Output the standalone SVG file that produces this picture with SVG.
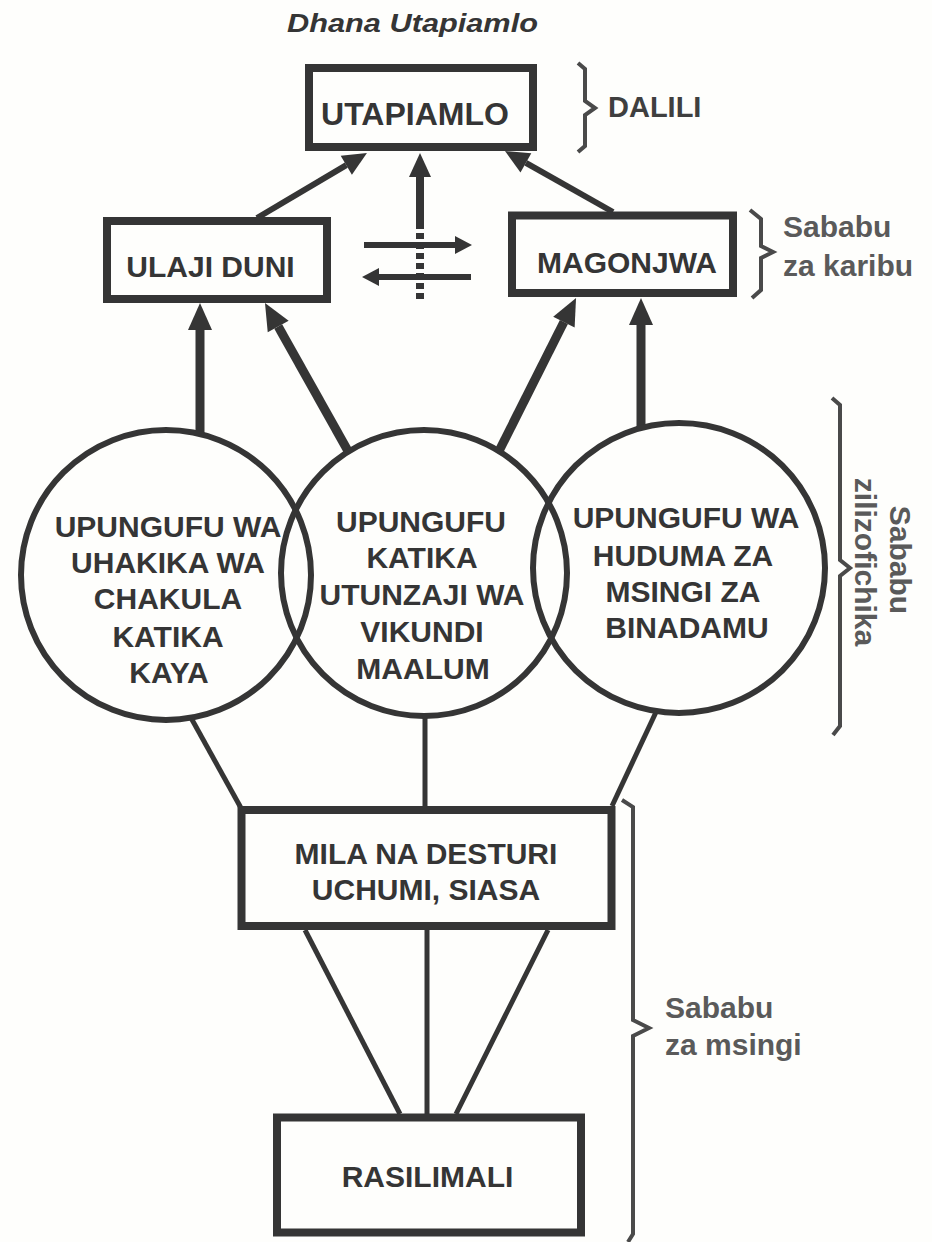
<svg xmlns="http://www.w3.org/2000/svg" width="932" height="1242" viewBox="0 0 932 1242">
<defs>
<style>
.box{fill:none;stroke:#353535;stroke-width:8}
.circ{fill:none;stroke:#353535;stroke-width:6}
.lbl{font-family:"Liberation Sans",Arial,sans-serif;font-weight:bold;fill:#353535;text-anchor:middle}
.side{font-family:"Liberation Sans",Arial,sans-serif;font-weight:bold;fill:#5a5a5a;font-size:30px}
.brace{fill:none;stroke:#4a4a4a;stroke-width:4;stroke-linejoin:miter}
.arr{fill:none;stroke:#353535}
.ln{fill:none;stroke:#353535;stroke-width:5}
</style>
<marker id="hl" markerUnits="userSpaceOnUse" markerWidth="40" markerHeight="40" refX="0" refY="0" orient="auto" overflow="visible"><path d="M0,-12 L27,0 L0,12 Z" fill="#353535"/></marker>
<marker id="hm" markerUnits="userSpaceOnUse" markerWidth="40" markerHeight="40" refX="0" refY="0" orient="auto" overflow="visible"><path d="M0,-11 L24,0 L0,11 Z" fill="#353535"/></marker>
<marker id="hs" markerUnits="userSpaceOnUse" markerWidth="40" markerHeight="40" refX="0" refY="0" orient="auto" overflow="visible"><path d="M0,-9 L17,0 L0,9 Z" fill="#353535"/></marker>
</defs>
<rect width="932" height="1242" fill="#fefefc"/>

<text x="287" y="32" font-family="Liberation Sans,Arial,sans-serif" font-weight="bold" font-style="italic" font-size="25" fill="#353535" textLength="251" lengthAdjust="spacingAndGlyphs">Dhana Utapiamlo</text>

<g id="connectors">
<path class="arr" stroke-width="6" d="M257,218 L346.3,165.2" marker-end="url(#hm)"/>
<path class="arr" stroke-width="6" d="M613,212 L525.9,162.8" marker-end="url(#hm)"/>
<path class="arr" stroke-width="8" d="M420,229 L420,177" marker-end="url(#hm)"/>
<path class="arr" stroke-width="8" stroke-dasharray="6 4" d="M420,233 L420,301"/>
<path class="arr" stroke-width="6" d="M364,245 L455,245" marker-end="url(#hs)"/>
<path class="arr" stroke-width="6" d="M471,277 L379,277" marker-end="url(#hs)"/>
<path class="arr" stroke-width="9" d="M200,436 L200,330" marker-end="url(#hl)"/>
<path class="arr" stroke-width="9" d="M348,451 L278.2,326.5" marker-end="url(#hl)"/>
<path class="arr" stroke-width="9" d="M499,451 L563.9,322.1" marker-end="url(#hl)"/>
<path class="arr" stroke-width="9" d="M641,430 L641,325" marker-end="url(#hl)"/>
<path class="ln" d="M190,716 L241,808"/>
<path class="ln" d="M425,716 L425,808"/>
<path class="ln" d="M657,710 L612,806"/>
<path class="ln" d="M305,930 L400,1114"/>
<path class="ln" d="M427,930 L427,1114"/>
<path class="ln" d="M548,930 L456,1114"/>
</g>

<g id="utapiamlo">
<rect class="box" x="309" y="68" width="224" height="79"/>
<text class="lbl" x="415" y="125" font-size="32">UTAPIAMLO</text>
</g>
<g id="ulaji-duni">
<rect class="box" x="107" y="221" width="220" height="78"/>
<text class="lbl" x="210.5" y="277" font-size="30">ULAJI DUNI</text>
</g>
<g id="magonjwa">
<rect class="box" x="512" y="215.5" width="221" height="77.5"/>
<text class="lbl" x="627" y="273" font-size="30">MAGONJWA</text>
</g>

<g id="uhakika-chakula">
<ellipse class="circ" cx="166" cy="575" rx="145" ry="145"/>
<text class="lbl" font-size="30"><tspan x="168" y="537">UPUNGUFU WA</tspan><tspan x="168" y="573">UHAKIKA WA</tspan><tspan x="168" y="609">CHAKULA</tspan><tspan x="168" y="647">KATIKA</tspan><tspan x="169" y="683">KAYA</tspan></text>
</g>
<g id="utunzaji-vikundi">
<ellipse class="circ" cx="424" cy="573" rx="143" ry="143"/>
<text class="lbl" font-size="30"><tspan x="421" y="532">UPUNGUFU</tspan><tspan x="422" y="568">KATIKA</tspan><tspan x="422" y="605">UTUNZAJI WA</tspan><tspan x="422" y="642">VIKUNDI</tspan><tspan x="423" y="679">MAALUM</tspan></text>
</g>
<g id="huduma-msingi">
<ellipse class="circ" cx="679" cy="568" rx="146" ry="145"/>
<text class="lbl" font-size="30" fill="#3f3f3f"><tspan x="686" y="528">UPUNGUFU WA</tspan><tspan x="683" y="566">HUDUMA ZA</tspan><tspan x="683" y="602">MSINGI ZA</tspan><tspan x="687" y="638">BINADAMU</tspan></text>
</g>

<g id="mila">
<rect class="box" x="241.5" y="810" width="370" height="116" stroke-width="7"/>
<text class="lbl" font-size="30"><tspan x="426" y="864">MILA NA DESTURI</tspan><tspan x="426" y="900">UCHUMI, SIASA</tspan></text>
</g>
<g id="rasilimali">
<rect class="box" x="277" y="1117.5" width="304" height="115"/>
<text class="lbl" x="427.5" y="1187" font-size="30">RASILIMALI</text>
</g>

<g id="brace-dalili">
<path class="brace" d="M578,63 L585,69 L585,101 L595,108 L585,115 L585,146 L578,152"/>
<text x="608" y="117" font-family="Liberation Sans,Arial,sans-serif" font-weight="bold" font-size="29" fill="#3f3f3f">DALILI</text>
</g>
<g id="brace-karibu">
<path class="brace" d="M750,210 L761,219 L761,246 L773,252 L761,258 L761,290 L752,298"/>
<text class="side"><tspan x="783" y="237">Sababu</tspan><tspan x="783" y="276">za karibu</tspan></text>
</g>
<g id="brace-zilizofichika">
<path class="brace" d="M832,398 L840,405 L840,560 L850,568 L840,576 L840,726 L833,735"/>
<text class="side" text-anchor="middle" transform="translate(890,560) rotate(90)">Sababu</text>
<text class="side" text-anchor="middle" transform="translate(855,562) rotate(90)">zilizofichika</text>
</g>
<g id="brace-msingi">
<path class="brace" d="M622,800 L633,807 L633,1020 L649,1028 L633,1036 L633,1234 L628,1242"/>
<text class="side"><tspan x="665" y="1018">Sababu</tspan><tspan x="665" y="1055">za msingi</tspan></text>
</g>
</svg>
